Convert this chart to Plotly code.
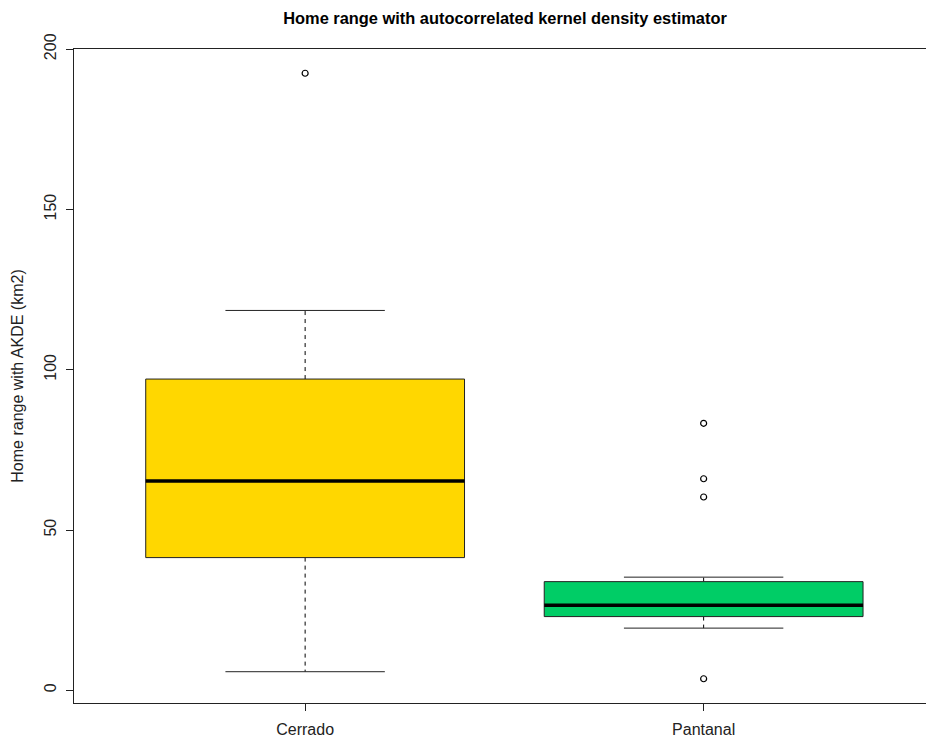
import plotly.graph_objects as go

# Summary statistics of home range (km2) estimated with AKDE, per biome
groups = ["Cerrado", "Pantanal"]
lower_whisker = [5.8, 19.4]
q1 = [41.4, 23.0]
median = [65.3, 26.5]
q3 = [97.1, 33.9]
upper_whisker = [118.5, 35.3]
outliers = {
    "Cerrado": [192.5],
    "Pantanal": [83.3, 66.0, 60.3, 3.6],
}
fill_colors = ["#FFD700", "#00CD66"]

y_ticks = [0, 50, 100, 150, 200]

FONT = "Liberation Sans, Arial, sans-serif"
BOX_HALF = 0.4
CAP_HALF = 0.2

fig = go.Figure()

for i, name in enumerate(groups):
    xc = i + 1
    # dashed whiskers
    for a, b in ((q3[i], upper_whisker[i]), (q1[i], lower_whisker[i])):
        fig.add_trace(go.Scatter(
            x=[xc, xc], y=[a, b], mode="lines",
            line=dict(color="black", width=1, dash="4px,4px"),
            hoverinfo="skip", showlegend=False))
    # staples
    for v in (upper_whisker[i], lower_whisker[i]):
        fig.add_trace(go.Scatter(
            x=[xc - CAP_HALF, xc + CAP_HALF], y=[v, v], mode="lines",
            line=dict(color="#222", width=1),
            hoverinfo="skip", showlegend=False))
    # box
    fig.add_trace(go.Scatter(
        x=[xc - BOX_HALF, xc + BOX_HALF, xc + BOX_HALF, xc - BOX_HALF, xc - BOX_HALF],
        y=[q1[i], q1[i], q3[i], q3[i], q1[i]],
        mode="lines", fill="toself", fillcolor=fill_colors[i],
        line=dict(color="#222", width=1),
        name=name, showlegend=False))
    # median
    fig.add_trace(go.Scatter(
        x=[xc - BOX_HALF, xc + BOX_HALF], y=[median[i], median[i]],
        mode="lines", line=dict(color="black", width=3.5),
        hoverinfo="skip", showlegend=False))
    # outliers
    pts = outliers[name]
    fig.add_trace(go.Scatter(
        x=[xc] * len(pts), y=pts, mode="markers",
        marker=dict(symbol="circle-open", size=6, color="black",
                    line=dict(width=1.2, color="black")),
        showlegend=False))

fig.update_layout(
    width=926, height=737,
    margin=dict(l=74, r=0, t=49, b=34),
    paper_bgcolor="white", plot_bgcolor="white",
    font=dict(family=FONT, size=16, color="#222"),
    title=dict(text="<b>Home range with autocorrelated kernel density estimator</b>",
               x=505 / 926, xref="container", xanchor="center",
               y=1 - 18 / 737, yref="container", yanchor="middle",
               font=dict(family=FONT, size=16.4, color="black")),
    xaxis=dict(range=[0.42, 2.558], tickvals=[1, 2], ticktext=groups,
               showgrid=False, zeroline=False,
               showline=True, linecolor="#222", linewidth=1, mirror=True,
               ticks="outside", ticklen=7, tickcolor="#222",
               ticklabelstandoff=5),
    yaxis=dict(range=[-3.96, 200.06], tickvals=y_ticks,
               showgrid=False, zeroline=False,
               showline=True, linecolor="#222", linewidth=1,
               ticks="outside", ticklen=7, tickcolor="#222",
               tickangle=-90, ticklabelstandoff=4,
               title=dict(text="Home range with AKDE (km2)", standoff=13,
                          font=dict(family=FONT, size=16, color="#222"))),
)

fig.write_html("out.html")
